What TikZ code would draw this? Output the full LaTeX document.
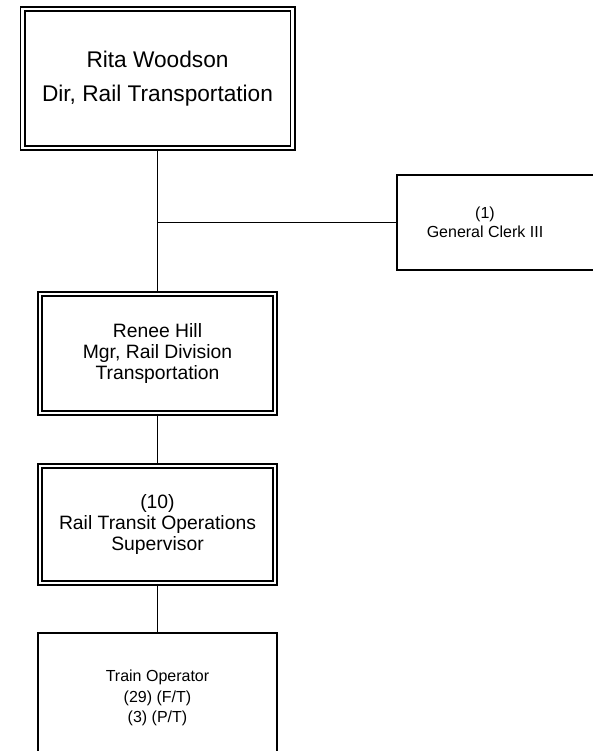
\documentclass[tikz,border=0pt]{standalone}
\usepackage{fontspec}
\setmainfont{Liberation Sans}
\usetikzlibrary{positioning}

\begin{document}
\begin{tikzpicture}[x=0.75pt, y=-0.75pt,
    unit/.style={draw, line width=1.2pt, inner sep=0pt, align=center,
      font=\fontsize{12}{15.5}\selectfont},
    dbl/.style={unit, line width=1.3pt, double, double distance=1.9pt,
      font=\fontsize{14.5}{16}\selectfont},
    conn/.style={line width=1.2pt}
]
\useasboundingbox (0,0) rectangle (593,751);
\clip (0,0) rectangle (593,751);

% --- Direccion ---
\node[dbl, minimum width=202.5pt, minimum height=104.25pt,
      font=\fontsize{17}{25}\selectfont] (rita) at (157.5,78.5)
      {Rita Woodson\\Dir, Rail Transportation};

% --- Apoyo administrativo (la caja sigue fuera de la hoja) ---
\node[unit, minimum width=152.25pt, minimum height=71.25pt]
      (clerk) at (498.5,222.5) {};
\node[align=center, inner sep=0pt, font=\fontsize{12}{14}\selectfont]
      (clerktxt) at (485,222.5) {(1)\\General Clerk III};

% --- Cadena de mando ---
\node[dbl, minimum width=176.25pt, minimum height=89.25pt]
      (renee) at (157.5,353.5) {Renee Hill\\Mgr, Rail Division\\Transportation};
\node[dbl, minimum width=176.25pt, minimum height=87.75pt]
      (super) at (157.5,524.5) {(10)\\Rail Transit Operations\\Supervisor};
\node[unit, minimum width=179.25pt, minimum height=97.5pt]
      (oper) at (157.5,698) {Train Operator\\(29) (F/T)\\(3) (P/T)};

% --- Conexiones ---
\coordinate (junc) at (rita.south |- clerk.west);
\draw[conn] (rita.south) -- (renee.north);
\draw[conn] (junc) -- (clerk.west);
\draw[conn] (renee.south) -- (super.north);
\draw[conn] (super.south) -- (oper.north);
\end{tikzpicture}
\end{document}
